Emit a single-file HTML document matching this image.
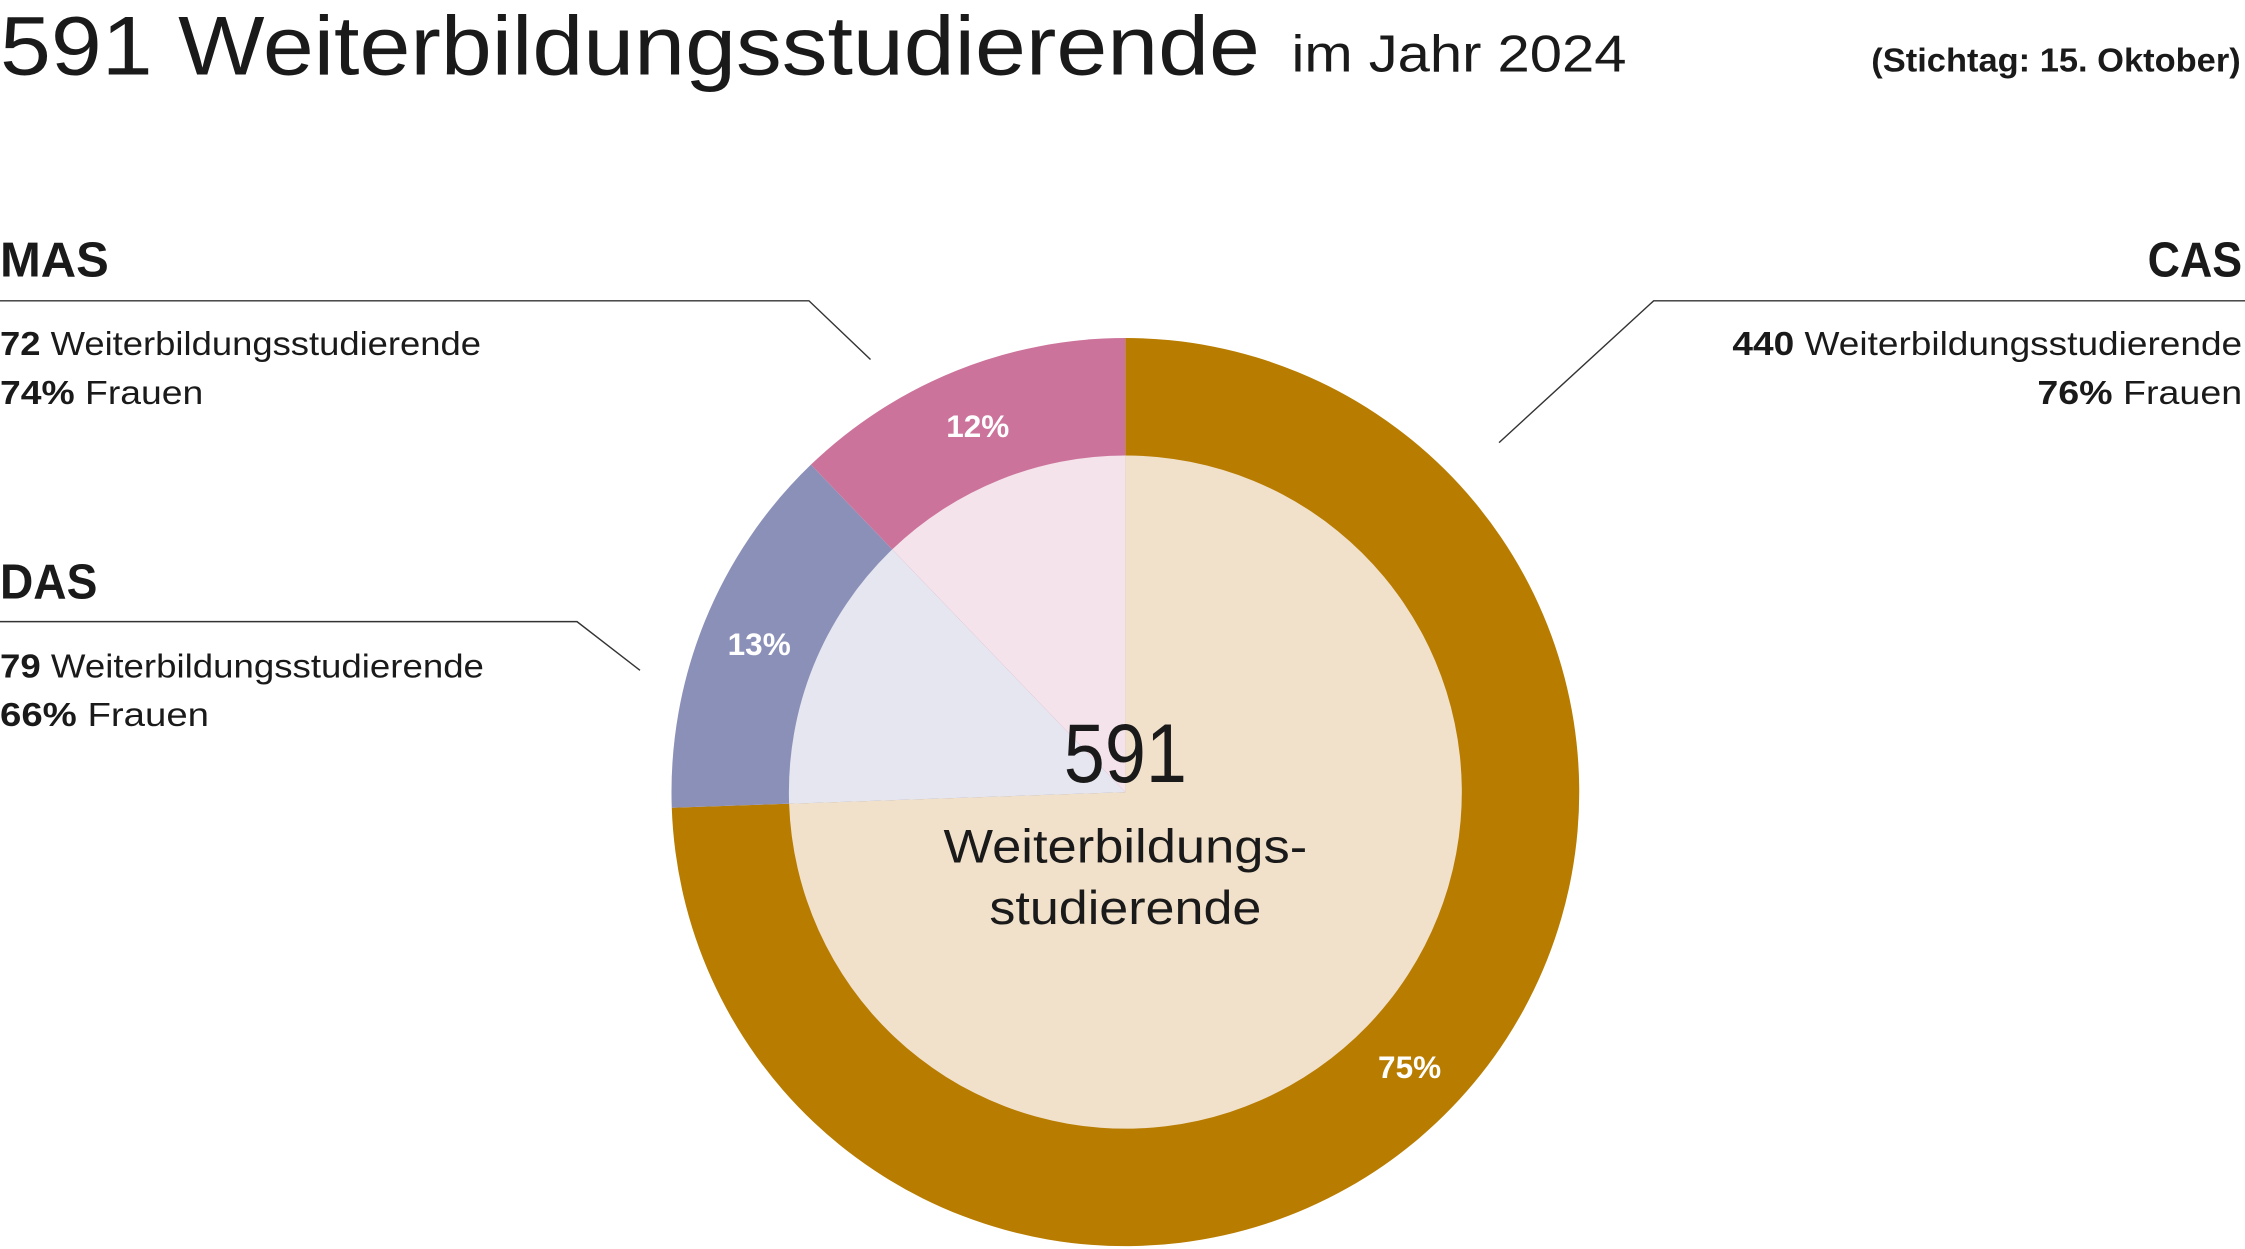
<!DOCTYPE html>
<html><head><meta charset="utf-8"><style>
html,body{margin:0;padding:0;background:#fff;}
svg{display:block;font-family:"Liberation Sans",sans-serif;}
</style></head><body>
<svg id="chart" width="2245" height="1249" viewBox="0 0 1568 872" preserveAspectRatio="none" xmlns="http://www.w3.org/2000/svg">
<g>
<text x="0" y="52" font-size="58" fill="#1a1a1a" textLength="880" lengthAdjust="spacingAndGlyphs">591 Weiterbildungsstudierende</text>
<text x="902" y="50" font-size="36" fill="#1a1a1a" textLength="234" lengthAdjust="spacingAndGlyphs">im Jahr 2024</text>
<text x="1307" y="50" font-size="23" font-weight="bold" fill="#1a1a1a" textLength="258" lengthAdjust="spacingAndGlyphs">(Stichtag: 15. Oktober)</text>
</g>
<g id="slices"></g>
<g id="labels"></g>
<g text-anchor="middle" fill="#1a1a1a">
<text x="786" y="546" font-size="58" textLength="86" lengthAdjust="spacingAndGlyphs">591</text>
<text x="786" y="602" font-size="33" textLength="254" lengthAdjust="spacingAndGlyphs">Weiterbildungs-</text>
<text x="786" y="645" font-size="33" textLength="190" lengthAdjust="spacingAndGlyphs">studierende</text>
</g>
<g fill="#1a1a1a">
<text x="0" y="193" font-size="34" font-weight="bold" textLength="76" lengthAdjust="spacingAndGlyphs">MAS</text>
<polyline points="0,210 565,210 608,251" fill="none" stroke="#333" stroke-width="1"/>
<text x="0" y="248" font-size="23" textLength="336" lengthAdjust="spacingAndGlyphs"><tspan font-weight="bold">72</tspan> Weiterbildungsstudierende</text>
<text x="0" y="282" font-size="23" textLength="142" lengthAdjust="spacingAndGlyphs"><tspan font-weight="bold">74%</tspan> Frauen</text>
</g>
<g fill="#1a1a1a">
<text x="0" y="418" font-size="34" font-weight="bold" textLength="68" lengthAdjust="spacingAndGlyphs">DAS</text>
<polyline points="0,434 403,434 447,468" fill="none" stroke="#333" stroke-width="1"/>
<text x="0" y="473" font-size="23" textLength="338" lengthAdjust="spacingAndGlyphs"><tspan font-weight="bold">79</tspan> Weiterbildungsstudierende</text>
<text x="0" y="507" font-size="23" textLength="146" lengthAdjust="spacingAndGlyphs"><tspan font-weight="bold">66%</tspan> Frauen</text>
</g>
<g fill="#1a1a1a" text-anchor="end">
<text x="1566" y="193" font-size="34" font-weight="bold" textLength="66" lengthAdjust="spacingAndGlyphs">CAS</text>
<polyline points="1568,210 1155,210 1047,309" fill="none" stroke="#333" stroke-width="1"/>
<text x="1566" y="248" font-size="23" textLength="356" lengthAdjust="spacingAndGlyphs"><tspan font-weight="bold">440</tspan> Weiterbildungsstudierende</text>
<text x="1566" y="282" font-size="23" textLength="143" lengthAdjust="spacingAndGlyphs"><tspan font-weight="bold">76%</tspan> Frauen</text>
</g>
</svg>
<script>
const categories = ["CAS", "DAS", "MAS"];
const counts = [440, 79, 72];
const percentLabels = ["75%", "13%", "12%"];
const outerColors = ["#b87c00", "#8b90b8", "#cc739c"];
const innerColors = ["#f1e1cb", "#e6e6f0", "#f4e3ea"];

const NS = "http://www.w3.org/2000/svg";
const cx = 786, cy = 553, rOuter = 317, rInner = 235;
const total = counts.reduce((a, b) => a + b, 0);
function pt(r, frac) {
  const a = frac * 2 * Math.PI;
  return [cx + r * Math.sin(a), cy - r * Math.cos(a)];
}
function sector(r, f0, f1) {
  const [x0, y0] = pt(r, f0), [x1, y1] = pt(r, f1);
  const large = (f1 - f0) > 0.5 ? 1 : 0;
  return `M${cx},${cy} L${x0},${y0} A${r},${r} 0 ${large} 1 ${x1},${y1} Z`;
}
const gS = document.getElementById("slices");
const gL = document.getElementById("labels");
let acc = 0;
counts.forEach((v, i) => {
  const f0 = acc / total, f1 = (acc + v) / total;
  acc += v;
  const o = document.createElementNS(NS, "path");
  o.setAttribute("d", sector(rOuter, f0, f1));
  o.setAttribute("fill", outerColors[i]);
  
  
  gS.appendChild(o);
  const inn = document.createElementNS(NS, "path");
  inn.setAttribute("d", sector(rInner, f0, f1));
  inn.setAttribute("fill", innerColors[i]);
  
  
  gS.appendChild(inn);
  const [lx, ly] = pt(276, (f0 + f1) / 2);
  const t = document.createElementNS(NS, "text");
  t.setAttribute("x", lx);
  t.setAttribute("y", ly + 8);
  t.setAttribute("text-anchor", "middle");
  t.setAttribute("font-size", "22");
  t.setAttribute("font-weight", "bold");
  t.setAttribute("fill", "#fff");
  t.textContent = percentLabels[i];
  
  
  gL.appendChild(t);
});
</script>
</body></html>
